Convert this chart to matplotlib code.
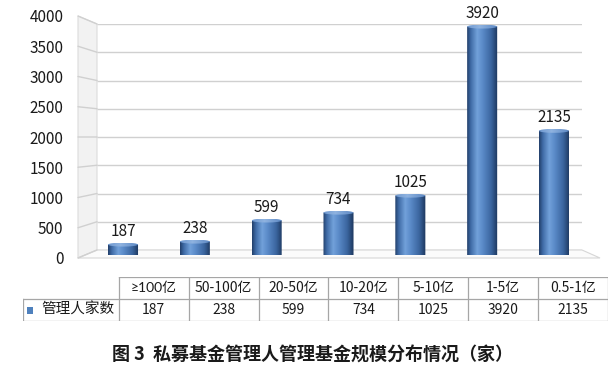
import numpy as np
import matplotlib
matplotlib.use("Agg")
import matplotlib.pyplot as plt
from matplotlib.path import Path
from matplotlib.patches import PathPatch, Ellipse, Polygon, ConnectionPatch, Rectangle
from matplotlib.colors import LinearSegmentedColormap

plt.rcParams['font.family'] = ['Noto Sans CJK SC', 'DejaVu Sans']

# ---------------- data ----------------
categories = ["≥100亿", "50-100亿", "20-50亿", "10-20亿", "5-10亿", "1-5亿", "0.5-1亿"]
values = [187, 238, 599, 734, 1025, 3920, 2135]
series_name = "管理人家数"
y_ticks = [0, 500, 1000, 1500, 2000, 2500, 3000, 3500, 4000]
title = "图 3  私募基金管理人管理基金规模分布情况（家）"

W, H = 615, 374
fig = plt.figure(figsize=(W / 100, H / 100), dpi=100)
fig.patch.set_facecolor("white")


def pos(x0, x1, ytop, ybot):
    return [x0 / W, 1 - ybot / H, (x1 - x0) / W, (ybot - ytop) / H]


ymax = y_ticks[-1]
grid_col = "#d0d0d0"
text_col = "#1a1a1a"

# back plane (grid), front plane (tick labels), middle plane (bars)
ax_back = fig.add_axes(pos(97, 582, 24, 250))
ax_front = fig.add_axes(pos(78, 600, 16, 258))
ax_bar = fig.add_axes(pos(87.1, 589.9, 21.9, 255.5))
for a in (ax_back, ax_front, ax_bar):
    a.set_ylim(0, ymax)
    a.patch.set_alpha(0)
    for s in a.spines.values():
        s.set_visible(False)
ax_back.set_xlim(0, 1)
ax_front.set_xlim(0, 1)
ax_back.set_xticks([]); ax_back.set_yticks([])
ax_bar.set_xticks([]); ax_bar.set_yticks([])
ax_front.set_xticks([])
ax_front.set_yticks(y_ticks)
ax_front.set_yticklabels([str(t) for t in y_ticks])
ax_front.tick_params(axis="y", length=0, pad=10.5, labelsize=11, labelcolor=text_col)
ax_back.set_zorder(1); ax_front.set_zorder(2); ax_bar.set_zorder(3)

# wall (left) and floor
fig.canvas.draw()
def to_fig(ax, x, y):
    p = ax.transData.transform((x, y))
    return fig.transFigure.inverted().transform(p)

wall = Polygon([to_fig(ax_front, 0, 0), to_fig(ax_front, 0, ymax),
                to_fig(ax_back, 0, ymax), to_fig(ax_back, 0, 0)],
               closed=True, transform=fig.transFigure, facecolor="#f2f2f2",
               edgecolor="#dcdcdc", lw=0.8, zorder=0)
fig.add_artist(wall)
floor = Polygon([to_fig(ax_front, 0, 0), to_fig(ax_back, 0, 0),
                 to_fig(ax_back, 1, 0), to_fig(ax_front, 1, 0)],
                closed=True, transform=fig.transFigure, facecolor="#fbfbfb",
                edgecolor="#d6d6d6", lw=0.8, zorder=0)
fig.add_artist(floor)

# grid lines on back plane + diagonals on wall
for t in y_ticks:
    ax_back.plot([0, 1], [t, t], color=grid_col, lw=1.0, solid_capstyle="butt")
    con = ConnectionPatch(xyA=(0, t), coordsA=ax_front.transData,
                          xyB=(0, t), coordsB=ax_back.transData,
                          color=grid_col, lw=1.0)
    fig.add_artist(con)

# ---------------- cylinders ----------------
ax_bar.set_xlim(-0.5, len(values) - 0.5)
bw = 0.418
# cap height in data units (4 px)
p0 = ax_bar.transData.inverted().transform((0, 0))
p1 = ax_bar.transData.inverted().transform((0, 4))
eh = p1[1] - p0[1]

body_cmap = LinearSegmentedColormap.from_list(
    "cyl", [(0.0, "#223f6a"), (0.12, "#3f6ba6"), (0.33, "#72a1da"),
            (0.5, "#5b8bc9"), (0.78, "#3b66a0"), (1.0, "#1c365c")])
cap_cmap = LinearSegmentedColormap.from_list(
    "cap", [(0.0, "#6f98cf"), (0.4, "#8fb3e0"), (1.0, "#5a86c2")])
grad = np.linspace(0, 1, 200).reshape(1, -1)
theta = np.linspace(np.pi, 2 * np.pi, 60)

for i, v in enumerate(values):
    x0, x1 = i - bw / 2, i + bw / 2
    arc = np.column_stack([i + bw / 2 * np.cos(theta), 0 + eh / 2 * np.sin(theta)])
    verts = np.vstack([[x0, v], [x0, 0], arc, [x1, 0], [x1, v], [x0, v]])
    codes = [Path.MOVETO] + [Path.LINETO] * (len(verts) - 2) + [Path.CLOSEPOLY]
    body = PathPatch(Path(verts, codes), transform=ax_bar.transData,
                     facecolor="none", edgecolor="none")
    ax_bar.add_patch(body)
    im = ax_bar.imshow(grad, cmap=body_cmap, aspect="auto",
                       extent=(x0, x1, -eh, v), interpolation="bilinear", zorder=2)
    im.set_clip_path(body)
    cap = Ellipse((i, v), bw, eh, transform=ax_bar.transData,
                  facecolor="none", edgecolor="none")
    ax_bar.add_patch(cap)
    imc = ax_bar.imshow(grad, cmap=cap_cmap, aspect="auto",
                        extent=(x0, x1, v - eh / 2, v + eh / 2),
                        interpolation="bilinear", zorder=3)
    imc.set_clip_path(cap)
    ax_bar.annotate(str(v), (i, v), xytext=(0, 13.5), textcoords="offset pixels",
                    ha="center", va="center", fontsize=11, color=text_col, zorder=5)

ax_bar.set_xlim(-0.5, len(values) - 0.5)
ax_bar.set_ylim(0, ymax)

# ---------------- data table ----------------
first_w = 96 / 70
ax_tab = fig.add_axes(pos(23, 608, 277, 321))
ax_tab.set_xlim(-first_w, len(categories))
ax_tab.set_ylim(0, 2)
ax_tab.axis("off")
lc = "#a6a6a6"
n = len(categories)
ax_tab.plot([0, n], [2, 2], color=lc, lw=0.9)
ax_tab.plot([-first_w, n], [1, 1], color=lc, lw=0.9)
ax_tab.plot([-first_w, n], [0, 0], color=lc, lw=0.9)
ax_tab.plot([-first_w, -first_w], [0, 1], color=lc, lw=0.9)
for k in range(n + 1):
    ax_tab.plot([k, k], [0, 2], color=lc, lw=0.9)
for k, (c, v) in enumerate(zip(categories, values)):
    fam = ['Lato', 'Noto Sans CJK SC', 'DejaVu Sans'] if "≥" in c else None
    ax_tab.text(k + 0.5, 1.5, c, ha="center", va="center", fontsize=10,
                color=text_col, family=fam)
    ax_tab.text(k + 0.5, 0.5, str(v), ha="center", va="center", fontsize=10, color=text_col)
ax_tab.add_patch(Rectangle((-first_w + 4 / 70, 0.5 - 3.5 / 22), 6.5 / 70, 7 / 22,
                           facecolor="#4f81bd", edgecolor="none"))
ax_tab.text(-first_w + 18 / 70, 0.5, series_name, ha="left", va="center",
            fontsize=10.5, color=text_col)

# ---------------- title ----------------
fig.text(312.5 / W, 1 - 355 / H, title, ha="center", va="center",
         fontsize=13, fontweight="bold", color="#1a1a1a")

fig.savefig("out.png", dpi=100)
